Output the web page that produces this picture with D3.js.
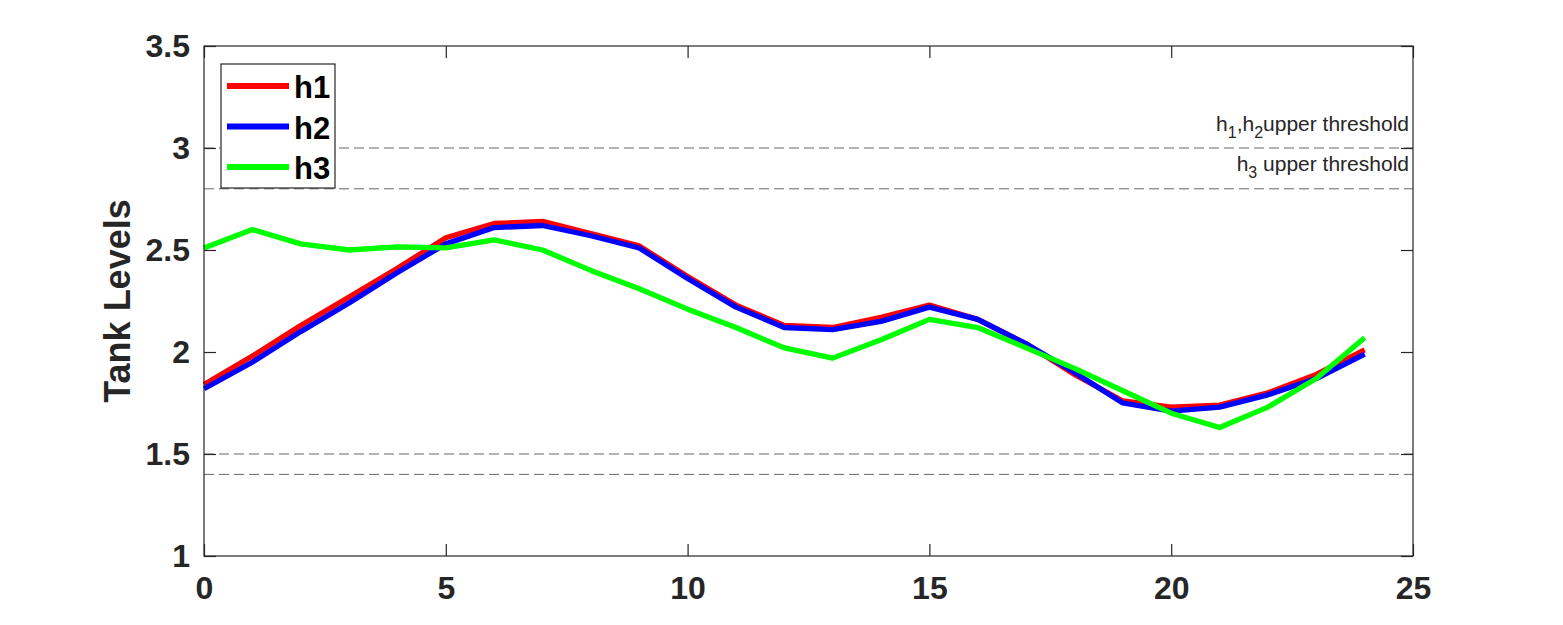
<!DOCTYPE html>
<html><head><meta charset="utf-8">
<script src="https://cdn.jsdelivr.net/npm/d3@7"></script>
<style>body{margin:0;background:#fff;} text{font-family:"Liberation Sans",Arial,sans-serif;}</style>
</head><body>
<svg id="c" width="1563" height="625"></svg>
<script>
const hours = d3.range(0, 25);
const h1 = [1.84,1.98,2.13,2.27,2.41,2.56,2.63,2.64,2.58,2.52,2.37,2.23,2.13,2.12,2.17,2.23,2.16,2.04,1.89,1.76,1.73,1.74,1.80,1.89,2.01];
const h2 = [1.82,1.95,2.10,2.24,2.39,2.53,2.61,2.62,2.57,2.51,2.36,2.22,2.12,2.11,2.15,2.22,2.16,2.04,1.90,1.75,1.71,1.73,1.79,1.87,1.99];
const h3 = [2.51,2.60,2.53,2.50,2.515,2.51,2.55,2.50,2.40,2.31,2.21,2.12,2.02,1.97,2.06,2.16,2.12,2.02,1.92,1.81,1.70,1.63,1.73,1.87,2.07];
const seriesNames = ["h1","h2","h3"];
const seriesColors = ["#ff0000","#0000ff","#00ff00"];
const xTicks = [0,5,10,15,20,25];
const yTicks = [1,1.5,2,2.5,3,3.5];
const thresholds = [3,2.8,1.5,1.4];
const yLabel = "Tank Levels";

const svg = d3.select("#c");
const L=204, R=1413, T=46, B=556;
const x = d3.scaleLinear().domain([0,25]).range([L,R]);
const y = d3.scaleLinear().domain([1,3.5]).range([B,T]);
const ink = "#262626";

// thresholds
svg.append("g").selectAll("line").data(thresholds).join("line")
  .attr("x1",L).attr("x2",R).attr("y1",d=>y(d)).attr("y2",d=>y(d))
  .attr("stroke","#666").attr("stroke-width",1).attr("stroke-dasharray","10,5");

// threshold labels
const lab1 = svg.append("text").attr("x",1409).attr("y",y(3)-17).attr("text-anchor","end")
  .attr("font-size",21).attr("fill",ink);
lab1.append("tspan").text("h");
lab1.append("tspan").attr("font-size",16).attr("dy",7).text("1");
lab1.append("tspan").attr("dy",-7).text(",h");
lab1.append("tspan").attr("font-size",16).attr("dy",7).text("2");
lab1.append("tspan").attr("dy",-7).text("upper threshold");
const lab2 = svg.append("text").attr("x",1409).attr("y",y(2.8)-18).attr("text-anchor","end")
  .attr("font-size",21).attr("fill",ink);
lab2.append("tspan").text("h");
lab2.append("tspan").attr("font-size",16).attr("dy",7).text("3");
lab2.append("tspan").attr("dy",-7).text(" upper threshold");

// series
const line = d3.line().x((d,i)=>x(hours[i])).y(d=>y(d));
[h1,h2,h3].forEach((s,k)=>{
  svg.append("path").datum(s).attr("d",line).attr("fill","none")
    .attr("stroke",seriesColors[k]).attr("stroke-width",5.3)
    .attr("stroke-linejoin","round").attr("stroke-linecap","butt");
});

// axes box
svg.append("rect").attr("x",L).attr("y",T).attr("width",R-L).attr("height",B-T)
  .attr("fill","none").attr("stroke",ink).attr("stroke-width",1.2);
const tl = 12;
const xb = svg.append("g").attr("transform",`translate(0,${B})`)
  .call(d3.axisBottom(x).tickValues(xTicks).tickSizeInner(-tl).tickSizeOuter(0).tickPadding(20).tickFormat(d3.format("d")));
const xt = svg.append("g").attr("transform",`translate(0,${T})`)
  .call(d3.axisTop(x).tickValues(xTicks).tickSizeInner(-tl).tickSizeOuter(0).tickFormat(""));
const yl = svg.append("g").attr("transform",`translate(${L},0)`)
  .call(d3.axisLeft(y).tickValues(yTicks).tickSizeInner(-tl).tickSizeOuter(0).tickPadding(14).tickFormat(d=>String(d)));
const yr = svg.append("g").attr("transform",`translate(${R},0)`)
  .call(d3.axisRight(y).tickValues(yTicks).tickSizeInner(-tl).tickSizeOuter(0).tickFormat(""));
[xb,xt,yl,yr].forEach(g=>{
  g.select(".domain").remove();
  g.selectAll(".tick line").attr("stroke",ink).attr("stroke-width",1.2);
  g.selectAll(".tick text").attr("fill",ink).attr("font-size",32).attr("font-weight","bold")
    .attr("font-family","'Liberation Sans',Arial,sans-serif");
});
xb.selectAll(".tick text").attr("dy","0.71em");

svg.append("text").attr("transform",`translate(130,${(T+B)/2}) rotate(-90)`)
  .attr("text-anchor","middle").attr("font-size",36).attr("font-weight","bold").attr("fill",ink)
  .text(yLabel);

// legend
const lg = svg.append("g");
lg.append("rect").attr("x",221).attr("y",64).attr("width",114).attr("height",124)
  .attr("fill","#fff").attr("stroke",ink).attr("stroke-width",1.2);
seriesNames.forEach((n,i)=>{
  const cy = 86 + i*40.5;
  lg.append("line").attr("x1",227).attr("x2",289).attr("y1",cy).attr("y2",cy)
    .attr("stroke",seriesColors[i]).attr("stroke-width",6);
  lg.append("text").attr("x",294).attr("y",cy+12).attr("font-size",31).attr("font-weight","bold")
    .attr("fill","#000").text(n);
});
</script>
</body></html>
